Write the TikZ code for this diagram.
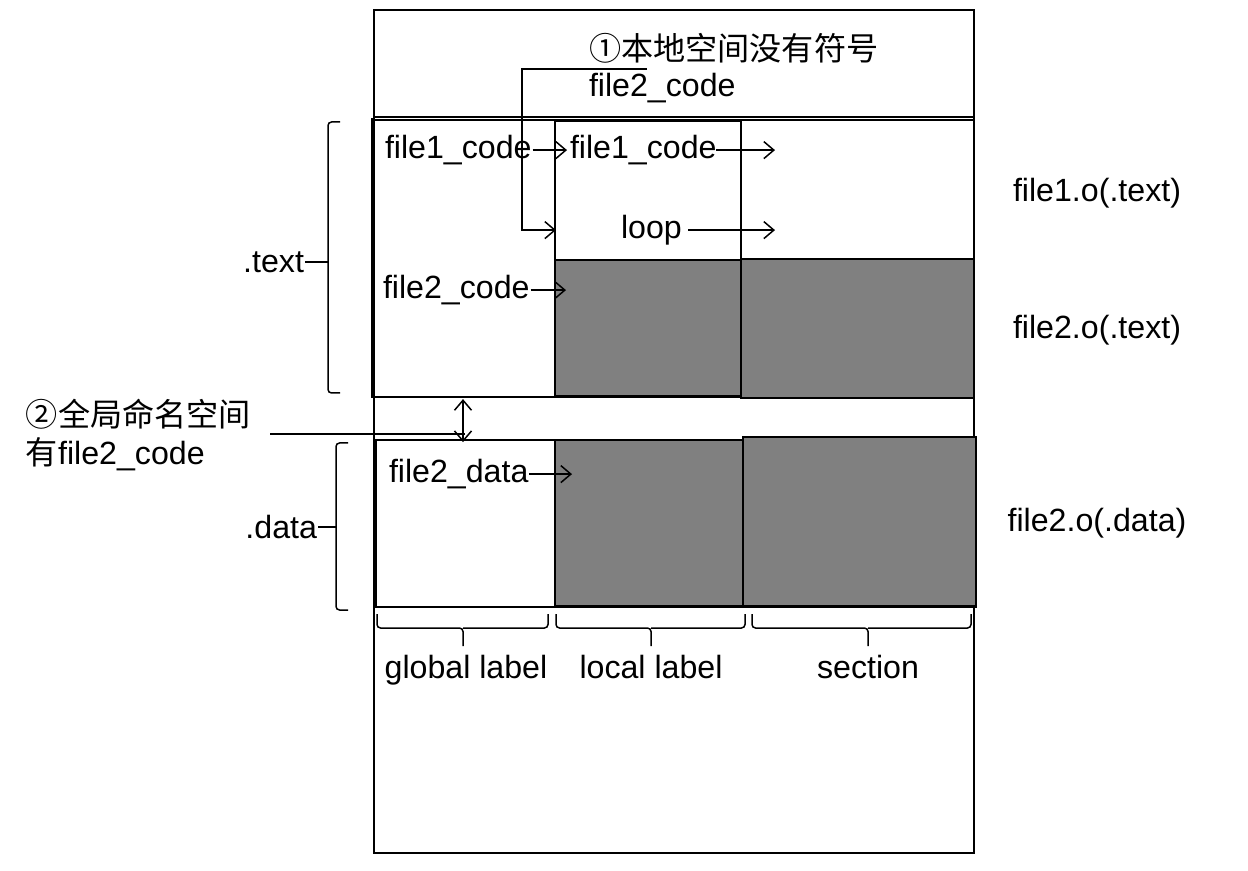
\documentclass[tikz,border=0pt]{standalone}
\usepackage{fontspec}
\setmainfont{Liberation Sans}
\newfontfamily\cjk{Noto Sans CJK SC}
\usetikzlibrary{arrows.meta}

\def\lw{0.4mm}

\begin{document}
\begin{tikzpicture}[x=0.02cm, y=-0.02cm, line width=\lw,
	every node/.style={inner sep=0, yshift=-1.2pt, font=\fontsize{18.3}{21}\selectfont},
	blk/.style={fill=gray, draw=black, line width=0.5mm},
	ptr/.style={-{Straight Barb[length=2mm,width=3.4mm]}, line width=0.3mm},
	brk/.style={line width=0.3mm, rounded corners=2pt}]
		\useasboundingbox (0,0) rectangle (1248,871);
		
		% frame and regions
		\draw (374,10) rectangle (974,853);
		\draw (374,117) -- (974,117);
		\draw (372,120) rectangle (974,397);
		\draw[line width=0.6mm] (372,118) -- (372,397);
		\draw (555,121) rectangle (741,260);
		\draw[blk] (555,260) rectangle (741,396);
		\draw[blk] (741,259) rectangle (974,398);
		\draw (376,440) rectangle (976,607);
		\draw[blk] (555,440) rectangle (743,606);
		\draw[blk] (743,437) rectangle (976,606);
		
		% labels
		\node (N1) at (588,46) [anchor=west] {\cjk ①本地空间没有符号};
		\node (N1b) at (588,86) [anchor=west] {file2\_code};
		\node (FA) at (384,148) [anchor=west] {file1\_code};
		\node (FB) at (569,148) [anchor=west] {file1\_code};
		\node (LP) at (620,228) [anchor=west] {loop};
		\node (FC) at (382,288) [anchor=west] {file2\_code};
		\node (FD) at (388,472) [anchor=west] {file2\_data};
		\node (TX) at (305,260) [anchor=east] {.text};
		\node (DT) at (318,525) [anchor=east] {.data};
		\node (N2) at (25,412) [anchor=west] {\cjk ②全局命名空间};
		\node (N2b) at (25,452) [anchor=west] {{\cjk 有}file2\_code};
		\node (R1) at (1097,191) {file1.o(.text)};
		\node (R2) at (1097,328) {file2.o(.text)};
		\node (R3) at (1097,521) {file2.o(.data)};
		\node (GL) at (466,676) [anchor=base] {global label};
		\node (LL) at (651,676) [anchor=base] {local label};
		\node (SC) at (868,676) [anchor=base] {section};
		
		% connector ends
		\coordinate (a1) at (647,67);
		\coordinate (a2) at (522,67);
		\coordinate (a3) at (556,228);
		\coordinate (b1) at (567,148);
		\coordinate (b2) at (775,148);
		\coordinate (b3) at (775,228);
		\coordinate (b4) at (566,288);
		\coordinate (b5) at (572,472);
		\coordinate (c1) at (463,397);
		\coordinate (c2) at (463,440);
		\coordinate (c3) at (270,432);
		\coordinate (c4) at (465,432);
		\coordinate (t1) at (328,260);
		\coordinate (t2) at (336,525);
		
		\draw[ptr] (a1) -- (a2) |- (a3);
		\draw[ptr] (FA.east) to (b1);
		\draw[ptr] ([xshift=-1pt]FB.east) to (b2);
		\draw[ptr] ([xshift=3pt]LP.east) to (b3);
		\draw[ptr] (FC.east) to (b4);
		\draw[ptr] (FD.east) to (b5);
		\draw[{Straight Barb[length=2mm,width=3.4mm]}-{Straight Barb[length=2mm,width=3.4mm]}, line width=0.3mm] (c1) to (c2);
		\draw[line width=0.4mm] (c3) to (c4);
		
		% brackets
		\draw[brk] (340,122) -- (328,122) -- (328,393) -- (340,393);
		\draw[line width=0.3mm] (TX.east) to (t1);
		\draw[brk] (348,443) -- (336,443) -- (336,610) -- (348,610);
		\draw[line width=0.3mm] (DT.east) to (t2);
		
		\draw[brk] (377,614) |- (463,628) -- (463,646);
		\draw[brk] (463,628) -| (548,614);
		\draw[brk] (556,614) |- (651,628) -- (651,646);
		\draw[brk] (651,628) -| (745,614);
		\draw[brk] (752,614) |- (868,628) -- (868,646);
		\draw[brk] (868,628) -| (971,614);
		
	\end{tikzpicture}
\end{document}
